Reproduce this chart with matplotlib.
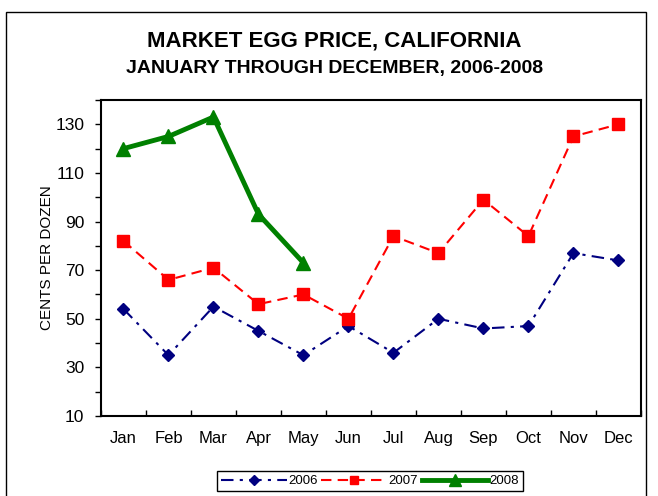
import numpy as np
import matplotlib.pyplot as plt
from matplotlib.patches import Rectangle

plt.rcParams['font.family'] = ['Liberation Sans', 'DejaVu Sans']

months = ['Jan', 'Feb', 'Mar', 'Apr', 'May', 'Jun', 'Jul', 'Aug', 'Sep', 'Oct', 'Nov', 'Dec']
y2006 = [54, 35, 55, 45, 35, 47, 36, 50, 46, 47, 77, 74]
y2007 = [82, 66, 71, 56, 60, 50, 84, 77, 99, 84, 125, 130]
y2008 = [120, 125, 133, 93, 73]

fig = plt.figure(figsize=(6.58, 4.96), dpi=100)
ax = fig.add_axes([0.1535, 0.1613, 0.8205, 0.6371])

x = np.arange(len(months))
ax.plot(x, y2006, color='#000080', lw=1.5, dashes=[6, 3, 1.5, 3],
        marker='D', markersize=6, label='2006')
ax.plot(x, y2007, color='#ff0000', lw=1.5, dashes=[5, 3],
        marker='s', markersize=8, label='2007')
ax.plot(x[:len(y2008)], y2008, color='#008000', lw=3.5,
        marker='^', markersize=10, label='2008')

ax.set_xlim(-0.5, 11.5)
ax.set_ylim(10, 140)
ax.set_xticks(x)
ax.set_xticklabels(months, fontsize=12)
ax.set_xticks(np.arange(-0.5, 12, 1), minor=True)
ax.tick_params(axis='x', which='major', length=0, pad=11)
ax.tick_params(axis='x', which='minor', length=4, width=1, direction='in')
ax.set_yticks(np.arange(10, 131, 20))
ax.set_yticks(np.arange(20, 141, 20), minor=True)
ax.tick_params(axis='y', which='both', length=4, width=1, labelsize=12.5, pad=8)
for s in ax.spines.values():
    s.set_linewidth(1.5)
ax.set_ylabel('CENTS PER DOZEN', fontsize=11, labelpad=1)

fig.text(0.508, 0.917, 'MARKET EGG PRICE, CALIFORNIA', ha='center', va='center',
         fontsize=16, fontweight='bold')
fig.text(0.508, 0.862, 'JANUARY THROUGH DECEMBER, 2006-2008', ha='center', va='center',
         fontsize=14, fontweight='bold')

leg = fig.legend(loc='center', bbox_to_anchor=(0.562, 0.03), ncol=3, fontsize=9.5,
                 handlelength=5, fancybox=False, edgecolor='black', framealpha=1,
                 borderpad=0.3, columnspacing=0.3, handletextpad=0.1, borderaxespad=0,
                 markerscale=0.8)
leg.get_frame().set_linewidth(1)

fig.patches.append(Rectangle((6 / 658, -0.1), 640 / 658, 1.1 - 12 / 496,
                             transform=fig.transFigure, fill=False,
                             edgecolor='black', lw=1))

fig.savefig('out.png', dpi=100)
